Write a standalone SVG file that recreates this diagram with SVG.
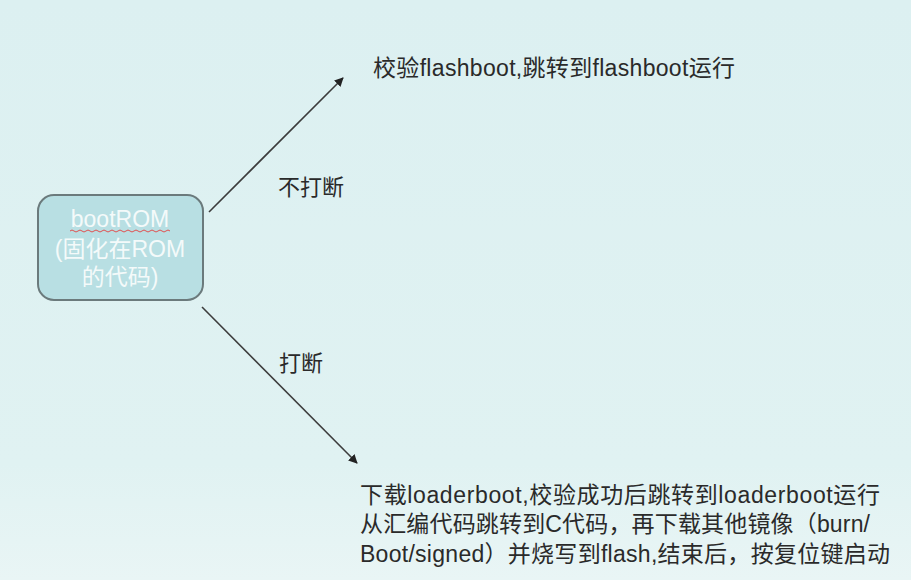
<svg xmlns="http://www.w3.org/2000/svg" width="911" height="580" viewBox="0 0 911 580">
<defs>
<linearGradient id="bg" x1="0" y1="0" x2="0" y2="1">
<stop offset="0" stop-color="#dcf0f1"/>
<stop offset="0.8" stop-color="#e0f2f2"/>
<stop offset="1" stop-color="#e9f5f5"/>
</linearGradient>
<marker id="arr" viewBox="0 0 10 10" refX="9" refY="5" markerWidth="9" markerHeight="9" markerUnits="userSpaceOnUse" orient="auto">
<path d="M0,0 L10,5 L0,10 z" fill="#222"/>
</marker>
<style>
.lbl{font-family:"Liberation Sans","Noto Sans CJK SC",sans-serif;fill:#2a2a2a;font-size:22px}
.big{font-size:23px}
.box{fill:#b8dfe3;stroke:#6b7a7c;stroke-width:2}
.boxt{font-family:"Liberation Sans","Noto Sans CJK SC",sans-serif;fill:#f4fafa;font-size:23px;text-anchor:middle}
.conn{stroke:#3c3c3c;stroke-width:1.6;fill:none}
</style>
</defs>
<rect width="911" height="580" fill="url(#bg)"/>
<g id="connectors">
<line class="conn" x1="209" y1="212" x2="343" y2="78" marker-end="url(#arr)"/>
<line class="conn" x1="202" y1="307" x2="357" y2="463" marker-end="url(#arr)"/>
<text class="lbl" x="278" y="195">不打断</text>
<text class="lbl" x="279" y="371">打断</text>
</g>
<g id="bootrom">
<rect class="box" x="38" y="195" width="165" height="105" rx="16" ry="16"/>
<text class="boxt" x="120" y="227">bootROM</text>
<path d="M70,231 q2,-2 4,0 t4,0 t4,0 t4,0 t4,0 t4,0 t4,0 t4,0 t4,0 t4,0 t4,0 t4,0 t4,0 t4,0 t4,0 t4,0 t4,0 t4,0 t4,0 t4,0 t4,0 t4,0 t4,0 t4,0 t4,0" fill="none" stroke="#e05050" stroke-width="1"/>
<text class="boxt" x="120" y="257">(固化在ROM</text>
<text class="boxt" x="120" y="285">的代码)</text>
</g>
<g id="flashboot">
<text class="lbl big" x="373" y="76" textLength="362">校验flashboot,跳转到flashboot运行</text>
</g>
<g id="loaderboot">
<text class="lbl big" x="360" y="503" textLength="520">下载loaderboot,校验成功后跳转到loaderboot运行</text>
<text class="lbl big" x="360" y="532" textLength="510">从汇编代码跳转到C代码，再下载其他镜像（burn/</text>
<text class="lbl big" x="360" y="562" textLength="530">Boot/signed）并烧写到flash,结束后，按复位键启动</text>
</g>
</svg>
